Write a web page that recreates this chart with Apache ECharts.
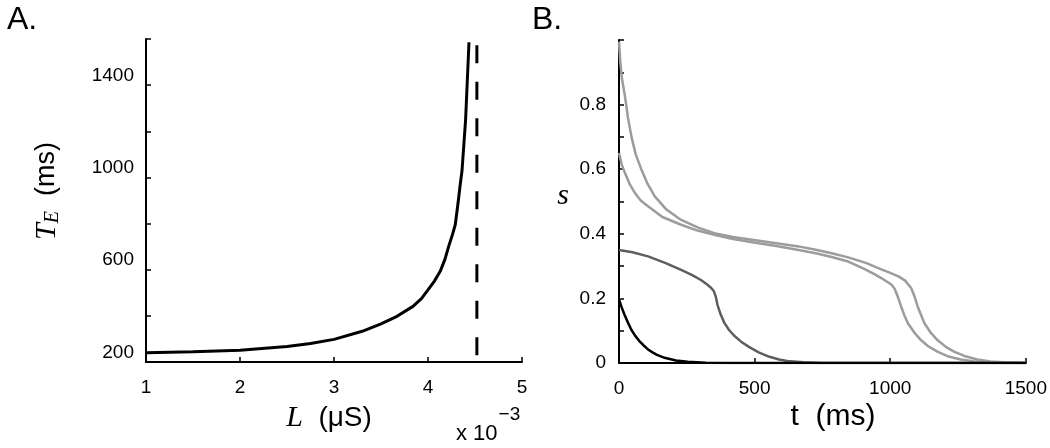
<!DOCTYPE html>
<html><head><meta charset="utf-8">
<script src="https://cdn.jsdelivr.net/npm/echarts@6/dist/echarts.min.js"></script>
<style>html,body{margin:0;padding:0;background:#fff}#c{width:1050px;height:448px}</style>
</head><body><div id="c"></div>
<script>
// ---- Panel A data: T_E (ms) vs L (x10^-3 uS)
const lValues  = [1, 1.5, 2, 2.5, 2.75, 3, 3.3, 3.5, 3.67, 3.84, 3.93, 4.0, 4.07, 4.13, 4.18, 4.22, 4.26, 4.29, 4.32, 4.34, 4.362, 4.40, 4.436];
const teValues = [240, 244, 251, 267, 280, 298, 333, 365, 398, 441, 475, 513, 552, 593, 645, 701, 752, 795, 890, 960, 1030, 1250, 1586];
const asymptoteL = 4.52;
const asymptoteTE = [1573, 200];
const aXTicks = [1, 2, 3, 4, 5];
const aYLabels = [200, 600, 1000, 1400];

// ---- Panel B data: s vs t (ms)
const tBlack = [0, 10, 20, 33, 46, 60, 75, 90, 107, 125, 140, 168, 210, 253, 320, 400, 1500];
const sBlack = [0.197, 0.172, 0.15, 0.125, 0.102, 0.084, 0.068, 0.055, 0.042, 0.032, 0.025, 0.016, 0.008, 0.004, 0.001, 0, 0];
const tDark = [0, 50, 107, 170, 229, 270, 302, 325, 340, 350, 357, 363, 375, 388, 405, 424, 450, 479, 515, 552, 590, 620, 680, 750, 1500];
const sDark = [0.350, 0.343, 0.330, 0.310, 0.288, 0.272, 0.257, 0.243, 0.232, 0.222, 0.205, 0.18, 0.15, 0.125, 0.103, 0.085, 0.066, 0.05, 0.033, 0.02, 0.011, 0.006, 0.002, 0, 0];
const tLight1 = [0, 5, 11, 22, 33, 46, 62, 83, 105, 132, 175, 229, 290, 351, 420, 497, 580, 662, 730, 784, 845, 910, 967, 1000, 1030, 1055, 1077, 1090, 1101, 1114, 1126, 1150, 1174, 1205, 1235, 1280, 1321, 1370, 1418, 1500];
const sLight1 = [0.995, 0.93, 0.88, 0.826, 0.76, 0.70, 0.645, 0.598, 0.555, 0.516, 0.475, 0.443, 0.42, 0.402, 0.39, 0.381, 0.371, 0.361, 0.35, 0.340, 0.327, 0.31, 0.29, 0.279, 0.268, 0.255, 0.232, 0.205, 0.175, 0.148, 0.123, 0.093, 0.071, 0.05, 0.035, 0.02, 0.011, 0.005, 0.002, 0];
const tLight2 = [0, 10, 22, 40, 59, 80, 107, 160, 229, 290, 351, 420, 497, 580, 662, 730, 784, 845, 900, 940, 967, 991, 1005, 1016, 1028, 1040, 1052, 1065, 1090, 1113, 1140, 1174, 1215, 1260, 1310, 1357, 1500];
const sLight2 = [0.650, 0.615, 0.588, 0.553, 0.526, 0.503, 0.485, 0.452, 0.428, 0.41, 0.397, 0.384, 0.373, 0.362, 0.350, 0.339, 0.328, 0.314, 0.293, 0.276, 0.263, 0.250, 0.242, 0.230, 0.205, 0.175, 0.148, 0.123, 0.093, 0.071, 0.052, 0.035, 0.02, 0.011, 0.005, 0.002, 0];
const bXTicks = [0, 500, 1000, 1500];
const bYLabels = [0, 0.2, 0.4, 0.6, 0.8];

const zip = (a, b) => a.map((v, i) => [v, b[i]]);
const SANS = '"Liberation Sans", Arial, Helvetica, sans-serif';
const SERIF = '"Liberation Serif", "Times New Roman", serif';
const LABEL_SIZE = 19;

function axisBase(extra) {
  return Object.assign({
    type: 'value',
    axisLine: { show: true, onZero: false, lineStyle: { color: '#000', width: 2 } },
    axisTick: { show: true, inside: true, length: 5, lineStyle: { color: '#000', width: 1.5 } },
    splitLine: { show: false }
  }, extra);
}

const chart = echarts.init(document.getElementById('c'), null, { renderer: 'canvas' });
chart.setOption({
  animation: false,
  backgroundColor: '#fff',
  grid: [
    { left: 146, top: 39, width: 376, height: 323 },
    { left: 619, top: 40, width: 410, height: 323 }
  ],
  xAxis: [
    axisBase({ gridIndex: 0, min: 1, max: 5, interval: 1,
      axisLabel: { color: '#000', fontSize: LABEL_SIZE, fontFamily: SANS, margin: 16,
        formatter: v => aXTicks.includes(v) ? String(v) : '' } }),
    axisBase({ gridIndex: 1, min: 0, max: 1500, interval: 500,
      axisLabel: { color: '#000', fontSize: LABEL_SIZE, fontFamily: SANS, margin: 16,
        formatter: v => bXTicks.includes(v) ? String(v) : '' } })
  ],
  yAxis: [
    axisBase({ gridIndex: 0, min: 200, max: 1600, interval: 200,
      axisLabel: { color: '#000', fontSize: LABEL_SIZE, fontFamily: SANS, margin: 12, verticalAlign: 'bottom',
        formatter: v => aYLabels.includes(v) ? String(v) : '' } }),
    axisBase({ gridIndex: 1, min: 0, max: 1, interval: 0.1,
      axisLabel: { color: '#000', fontSize: LABEL_SIZE, fontFamily: SANS, margin: 13,
        formatter: v => { const r = Math.round(v * 10) / 10; return bYLabels.includes(r) ? String(r) : ''; } } })
  ],
  series: [
    { type: 'line', xAxisIndex: 0, yAxisIndex: 0, data: zip(lValues, teValues), showSymbol: false,
      lineStyle: { color: '#000', width: 3 } },
    { type: 'line', xAxisIndex: 0, yAxisIndex: 0, data: asymptoteTE.map(v => [asymptoteL, v]), showSymbol: false,
      lineStyle: { color: '#000', width: 3, type: [18, 18.5] } },
    { type: 'line', xAxisIndex: 1, yAxisIndex: 1, data: zip(tLight1, sLight1), showSymbol: false,
      lineStyle: { color: '#9c9c9c', width: 2.5 } },
    { type: 'line', xAxisIndex: 1, yAxisIndex: 1, data: zip(tLight2, sLight2), showSymbol: false,
      lineStyle: { color: '#9c9c9c', width: 2.5 } },
    { type: 'line', xAxisIndex: 1, yAxisIndex: 1, data: zip(tDark, sDark), showSymbol: false,
      lineStyle: { color: '#5e5e5e', width: 2.5 } },
    { type: 'line', xAxisIndex: 1, yAxisIndex: 1, data: zip(tBlack, sBlack), showSymbol: false,
      lineStyle: { color: '#000', width: 2.5 } }
  ],
  graphic: [
    { type: 'text', x: 7, y: 20, style: { text: 'A.', font: '32px ' + SANS, fill: '#000', verticalAlign: 'middle' } },
    { type: 'text', x: 532, y: 20, style: { text: 'B.', font: '32px ' + SANS, fill: '#000', verticalAlign: 'middle' } },
    { type: 'text', x: 47, y: 191, rotation: Math.PI / 2,
      style: { text: '{t|T}{e|E}  (ms)', font: '27px ' + SANS, fill: '#000', align: 'center', verticalAlign: 'middle',
        rich: { t: { font: 'italic 30px ' + SERIF, fill: '#000' },
                e: { font: 'italic 20px ' + SERIF, fill: '#000', padding: [12, 0, 0, 0] } } } },
    { type: 'text', x: 329, y: 418,
      style: { text: '{l|L}  (μS)', font: '28px ' + SANS, fill: '#000', align: 'center', verticalAlign: 'middle',
        rich: { l: { font: 'italic 30px ' + SERIF, fill: '#000' } } } },
    { type: 'text', x: 456, y: 434,
      style: { text: 'x 10{p|−3}', font: '22px ' + SANS, fill: '#000', align: 'left', verticalAlign: 'middle',
        rich: { p: { font: '19px ' + SANS, fill: '#000', padding: [0, 0, 38, 1] } } } },
    { type: 'text', x: 833, y: 417,
      style: { text: 't  (ms)', font: '30px ' + SANS, fill: '#000', align: 'center', verticalAlign: 'middle' } },
    { type: 'text', x: 563, y: 196,
      style: { text: 's', font: 'italic 30px ' + SERIF, fill: '#000', align: 'center', verticalAlign: 'middle' } }
  ]
});
</script>
</body></html>
